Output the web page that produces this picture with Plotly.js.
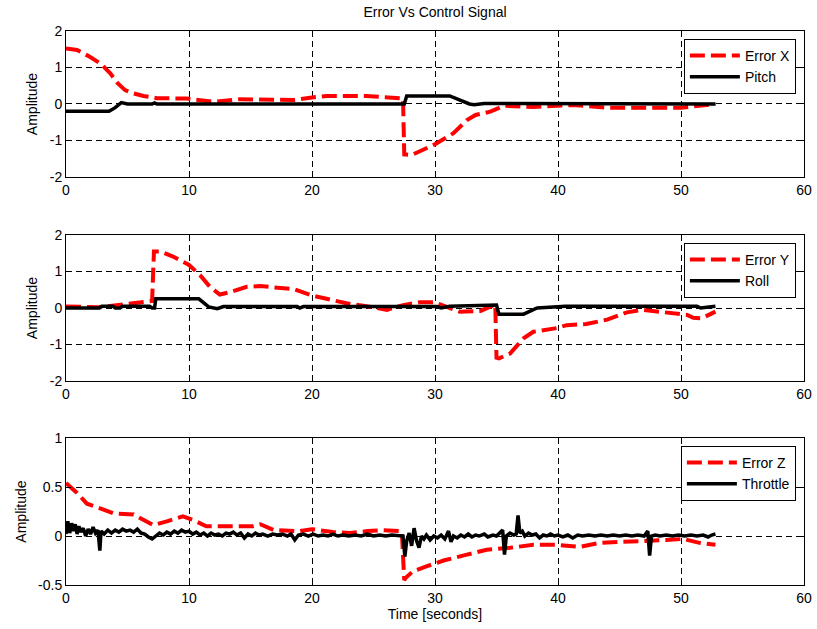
<!DOCTYPE html>
<html>
<head>
<meta charset="utf-8">
<script src="https://cdn.plot.ly/plotly-3.0.1.min.js"></script>
<style>
  html, body { margin: 0; padding: 0; background: #fff; }
  #chart { width: 817px; height: 629px; }
</style>
</head>
<body>
<div id="chart"></div>
<script>
// ---- Data ----
const errXT = [0, 0.9, 1.9, 2.8, 3.6, 4.2, 4.8, 5.5, 6.3, 7.4, 9.8, 12.0, 14.1, 18.5, 20.0, 21.2, 24.4, 27.2, 27.4, 27.5, 28.1, 29.9, 31.5, 32.6, 33.3, 34.5, 35.6, 38.0, 41.2, 44.0, 47.0, 50.0, 51.5, 52.8];
const errX  = [1.52, 1.48, 1.30, 1.11, 0.84, 0.57, 0.38, 0.29, 0.22, 0.16, 0.15, 0.06, 0.13, 0.11, 0.18, 0.22, 0.22, 0.18, 0.15, -1.38, -1.40, -1.12, -0.80, -0.44, -0.30, -0.21, -0.05, -0.08, -0.03, -0.10, -0.10, -0.10, -0.05, 0.0];

const pitchT = [0, 3.5, 4.0, 4.5, 5.0, 7.0, 7.2, 7.4, 27.5, 27.7, 31.2, 32.0, 32.8, 33.2, 34.0, 36.0, 38.0, 39.0, 41.0, 51.0, 51.3, 52.8];
const pitch  = [-0.2, -0.2, -0.1, 0.04, 0.0, 0.0, 0.03, 0.0, 0.0, 0.22, 0.22, 0.1, 0.0, -0.02, 0.01, 0.01, 0.01, 0.0, 0.02, 0.02, 0.0, 0.0];

const errYT = [0, 2.8, 4.9, 6.3, 7.0, 7.15, 7.65, 8.7, 10.0, 10.9, 11.7, 12.5, 13.3, 14.7, 15.8, 17.7, 18.5, 20.0, 21.2, 22.8, 25.3, 26.1, 27.4, 28.8, 29.9, 31.2, 32.0, 33.7, 34.9, 35.0, 35.2, 36.1, 37.2, 38.0, 39.1, 39.9, 40.7, 42.3, 44.0, 45.6, 46.9, 47.7, 49.4, 50.5, 51.0, 51.7, 52.8];
const errY  = [0.04, 0.02, 0.11, 0.15, 0.19, 1.55, 1.55, 1.41, 1.18, 0.9, 0.58, 0.37, 0.43, 0.58, 0.6, 0.54, 0.52, 0.34, 0.25, 0.13, 0.0, -0.05, 0.08, 0.16, 0.16, 0.0, -0.1, -0.08, 0.1, -1.36, -1.38, -1.25, -0.83, -0.65, -0.58, -0.55, -0.47, -0.44, -0.32, -0.12, -0.05, -0.08, -0.15, -0.19, -0.27, -0.28, -0.1];

const rollT = [0, 2.7, 2.9, 3.8, 4.0, 4.4, 4.6, 6.8, 7.0, 7.2, 7.3, 10.8, 11.6, 12.3, 12.8, 18.8, 19.0, 19.3, 30.2, 30.5, 31.2, 35.0, 35.2, 37.2, 38.3, 39.9, 40.6, 51.3, 51.6, 52.8];
const roll  = [0.0, 0.0, 0.05, 0.05, 0.0, 0.0, 0.05, 0.05, 0.0, 0.0, 0.25, 0.25, 0.03, -0.02, 0.04, 0.04, 0.0, 0.04, 0.04, 0.0, 0.05, 0.08, -0.17, -0.17, 0.0, 0.02, 0.05, 0.05, 0.0, 0.05];

const errZT = [0, 0.9, 1.7, 2.8, 3.9, 5.5, 6.3, 7.1, 8.2, 9.5, 10.4, 11.4, 13.1, 15.2, 15.8, 16.9, 19.0, 20.0, 21.7, 23.1, 24.5, 25.8, 27.3, 27.5, 27.6, 28.2, 29.3, 30.7, 32.6, 34.2, 36.1, 38.0, 39.9, 41.8, 43.4, 46.1, 48.8, 50.2, 51.5, 52.8];
const errZ  = [0.54, 0.44, 0.33, 0.28, 0.23, 0.22, 0.16, 0.11, 0.15, 0.20, 0.16, 0.10, 0.10, 0.10, 0.12, 0.06, 0.05, 0.07, 0.04, 0.03, 0.05, 0.06, 0.05, -0.45, -0.43, -0.36, -0.31, -0.25, -0.19, -0.14, -0.12, -0.09, -0.09, -0.11, -0.07, -0.05, -0.04, -0.03, -0.07, -0.09];

const throttleT = [0, 0.15, 0.3, 0.45, 0.6, 0.75, 0.9, 1.05, 1.2, 1.4, 1.6, 1.8, 2.0, 2.2, 2.4, 2.6, 2.75, 2.85, 3.1, 3.4, 3.7, 4.0, 4.3, 4.6, 4.9, 5.2, 5.5, 5.8, 6.1, 6.4, 6.7, 7.0, 7.3, 7.6, 7.9, 8.2, 8.5, 8.8, 9.1, 9.4, 9.7, 10.0, 10.3, 10.6, 10.9, 11.2, 11.5, 11.8, 12.1, 12.4, 12.7, 13.0, 13.3, 13.6, 13.9, 14.2, 14.5, 14.8, 15.1, 15.4, 15.7, 16.0, 16.4, 16.8, 17.2, 17.6, 18.0, 18.3, 18.6, 18.9, 19.3, 19.7, 20.1, 20.5, 20.9, 21.3, 21.7, 22.1, 22.5, 23.0, 23.5, 24.0, 24.5, 25.0, 25.5, 26.0, 26.5, 27.0, 27.4, 27.55, 27.7, 27.9, 28.1, 28.3, 28.5, 28.7, 28.9, 29.1, 29.3, 29.6, 29.9, 30.2, 30.5, 30.8, 31.1, 31.3, 31.5, 31.8, 32.1, 32.4, 32.7, 33.0, 33.3, 33.6, 34.0, 34.3, 34.7, 35.0, 35.3, 35.5, 35.65, 35.8, 36.1, 36.4, 36.6, 36.75, 36.9, 37.1, 37.3, 37.6, 37.9, 38.2, 38.5, 38.8, 39.1, 39.4, 39.7, 40.0, 40.4, 40.8, 41.2, 41.6, 42.0, 42.5, 43.0, 43.5, 44.0, 44.5, 45.0, 45.5, 46.0, 46.5, 47.0, 47.3, 47.45, 47.6, 47.9, 48.3, 48.8, 49.3, 49.8, 50.3, 50.8, 51.3, 51.8, 52.2, 52.5, 52.8];
const throttle  = [0.02, 0.15, 0.03, 0.13, 0.05, 0.12, 0.02, 0.1, 0.04, 0.08, 0.0, 0.07, 0.02, 0.09, 0.03, 0.06, -0.15, 0.05, 0.02, 0.06, 0.03, 0.06, 0.04, 0.07, 0.05, 0.06, 0.04, 0.07, 0.03, 0.02, -0.01, -0.03, 0.0, 0.03, 0.01, 0.04, 0.02, 0.05, 0.03, 0.06, 0.04, 0.05, 0.02, 0.04, 0.01, 0.03, 0.0, 0.03, 0.01, 0.02, 0.0, 0.03, 0.02, 0.04, 0.01, 0.03, -0.02, 0.02, 0.0, 0.03, 0.01, 0.02, 0.0, 0.02, 0.01, 0.02, 0.0, 0.02, -0.04, 0.01, 0.02, 0.0, 0.02, 0.0, 0.01, 0.0, 0.02, 0.0, 0.01, 0.0, 0.01, 0.0, 0.02, 0.0, 0.01, 0.0, 0.01, 0.0, 0.0, -0.21, -0.05, 0.03, -0.1, 0.08, -0.05, -0.12, 0.0, -0.03, 0.01, -0.04, 0.0, -0.02, 0.01, -0.03, 0.05, -0.06, 0.0, -0.02, 0.01, -0.01, 0.02, -0.01, 0.01, 0.0, 0.02, -0.01, 0.01, 0.0, 0.03, 0.06, -0.19, 0.0, 0.03, 0.01, 0.02, 0.21, 0.03, 0.05, 0.0, 0.03, 0.01, 0.02, -0.02, 0.01, 0.0, 0.02, 0.0, 0.01, -0.01, 0.01, -0.02, 0.01, 0.0, 0.01, 0.0, 0.01, 0.0, 0.01, 0.0, 0.01, 0.0, 0.01, 0.0, 0.05, -0.2, 0.0, 0.01, 0.0, 0.01, 0.0, 0.01, 0.0, 0.01, 0.0, 0.01, -0.01, 0.01, 0.02];

const xTicks = [0, 10, 20, 30, 40, 50, 60];
const xTickText = ["0", "10", "20", "30", "40", "50", "60"];
const yTicksXY = [-2, -1, 0, 1, 2];
const yTickTextXY = ["-2", "-1", "0", "1", "2"];
const yTicksZ = [-0.5, 0, 0.5, 1];
const yTickTextZ = ["-0.5", "0", "0.5", "1"];

// ---- Styling ----
const FONT = "Liberation Sans, Arial, Helvetica, sans-serif";
const FS = 14;
const redLine = { color: "#ff0000", width: 4, dash: "15px,6px" };
const blackLine = { color: "#000000", width: 3.5 };

const traces = [
  { x: errXT, y: errX, name: "Error X", mode: "lines", line: redLine, xaxis: "x", yaxis: "y", legend: "legend" },
  { x: pitchT, y: pitch, name: "Pitch", mode: "lines", line: blackLine, xaxis: "x", yaxis: "y", legend: "legend" },
  { x: errYT, y: errY, name: "Error Y", mode: "lines", line: redLine, xaxis: "x2", yaxis: "y2", legend: "legend2" },
  { x: rollT, y: roll, name: "Roll", mode: "lines", line: blackLine, xaxis: "x2", yaxis: "y2", legend: "legend2" },
  { x: errZT, y: errZ, name: "Error Z", mode: "lines", line: redLine, xaxis: "x3", yaxis: "y3", legend: "legend3" },
  { x: throttleT, y: throttle, name: "Throttle", mode: "lines", line: blackLine, xaxis: "x3", yaxis: "y3", legend: "legend3" }
];

function xAxis(anchor) {
  return {
    anchor: anchor, domain: [0, 1], range: [0, 60],
    tickmode: "array", tickvals: xTicks, ticktext: xTickText,
    showline: true, linecolor: "#000", linewidth: 1, mirror: "ticks",
    ticks: "inside", ticklen: 5, tickcolor: "#000",
    showgrid: true, gridcolor: "#000", gridwidth: 1, griddash: "6px,4px",
    zeroline: false, tickfont: { family: FONT, size: FS, color: "#000" }
  };
}
function yAxis(anchor, domain, range, vals, text) {
  return {
    anchor: anchor, domain: domain, range: range,
    tickmode: "array", tickvals: vals, ticktext: text,
    showline: true, linecolor: "#000", linewidth: 1, mirror: "ticks",
    ticks: "inside", ticklen: 5, tickcolor: "#000",
    showgrid: true, gridcolor: "#000", gridwidth: 1, griddash: "6px,4px",
    zeroline: false, tickfont: { family: FONT, size: FS, color: "#000" },
    title: { text: "Amplitude", font: { family: FONT, size: FS, color: "#000" }, standoff: 8 }
  };
}
function legendAt(y) {
  return {
    x: 0.989, xanchor: "right", y: y, yanchor: "top",
    bgcolor: "#fff", bordercolor: "#000", borderwidth: 1,
    font: { family: FONT, size: FS, color: "#000" },
    itemwidth: 50, tracegroupgap: 0
  };
}

const x3 = xAxis("y3");
x3.title = { text: "Time [seconds]", font: { family: FONT, size: FS, color: "#000" }, standoff: 4 };

const layout = {
  width: 817, height: 629,
  margin: { l: 66, r: 13, t: 31, b: 44 },
  paper_bgcolor: "#fff", plot_bgcolor: "#fff",
  font: { family: FONT, size: FS, color: "#000" },
  title: { text: "Error Vs Control Signal", font: { family: FONT, size: FS, color: "#000" },
           x: 0.5, xref: "paper", y: 0.981, yref: "container", yanchor: "middle" },
  showlegend: true,
  xaxis: xAxis("y"),
  xaxis2: xAxis("y2"),
  xaxis3: x3,
  yaxis: yAxis("x", [0.7365, 1.0], [-2, 2], yTicksXY, yTickTextXY),
  yaxis2: yAxis("x2", [0.3682, 0.6318], [-2, 2], yTicksXY, yTickTextXY),
  yaxis3: yAxis("x3", [0, 0.2653], [-0.5, 1], yTicksZ, yTickTextZ),
  legend: legendAt(0.9856),
  legend2: legendAt(0.6173),
  legend3: legendAt(0.2509)
};

Plotly.newPlot("chart", traces, layout, { displayModeBar: false, staticPlot: true });
</script>
</body>
</html>
